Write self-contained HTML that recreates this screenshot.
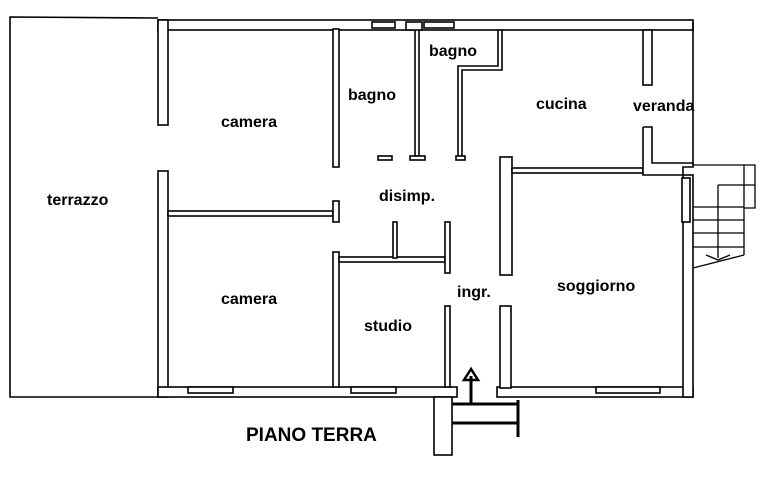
<!DOCTYPE html>
<html><head><style>html,body{margin:0;padding:0;background:#fff}svg{display:block}text{font-family:"Liberation Sans",sans-serif;font-weight:bold;font-size:16px;fill:#000}</style></head>
<body>
<svg width="766" height="502" viewBox="0 0 766 502" xmlns="http://www.w3.org/2000/svg">
<g fill="#fff" stroke="#000" stroke-width="1.6">
<polyline points="158,18 10,17 10,397 158,397" fill="none"/>
<rect x="158" y="20" width="535" height="10"/>
<rect x="158" y="20" width="10" height="105"/>
<rect x="158" y="171" width="10" height="226"/>
<rect x="158" y="387" width="299" height="10"/>
<rect x="497" y="387" width="196" height="10"/>
<line x1="693" y1="22" x2="693" y2="165"/>
<rect x="683" y="175" width="10" height="222"/>
<rect x="333" y="29" width="6" height="138"/>
<rect x="168" y="211" width="165" height="5"/>
<rect x="333" y="201" width="6" height="21"/>
<rect x="415" y="29" width="4" height="127"/>
<rect x="410" y="156" width="15" height="4"/>
<rect x="378" y="156" width="14" height="4"/>
<polyline points="458,156 458,66 498,66 498,30 502,30 502,70 462,70 462,156"/>
<rect x="456" y="156" width="9" height="4"/>
<rect x="500" y="157" width="12" height="118"/>
<rect x="500" y="306" width="11" height="82"/>
<rect x="512" y="168" width="131" height="5"/>
<rect x="643" y="30" width="9" height="55"/>
<polyline points="643,127 652,127 652,163 693,163 693,167 683,167 683,175 643,175 643,127"/>
<rect x="682" y="178" width="8" height="44"/>
<rect x="333" y="252" width="6" height="135"/>
<rect x="339" y="257" width="106" height="5"/>
<rect x="393" y="222" width="4" height="36"/>
<rect x="445" y="222" width="5" height="51"/>
<rect x="445" y="306" width="5" height="81"/>
<rect x="188" y="387" width="45" height="6"/>
<rect x="351" y="387" width="45" height="6"/>
<rect x="596" y="387" width="64" height="6"/>
<rect x="372" y="22" width="23" height="6"/>
<rect x="406" y="22" width="16" height="8"/>
<rect x="424" y="22" width="30" height="6"/>
<rect x="434" y="397" width="18" height="58"/>
</g>
<g stroke="#000" fill="none">
<line x1="452" y1="404" x2="518" y2="404" stroke-width="3"/>
<line x1="452" y1="423" x2="518" y2="423" stroke-width="3"/>
<line x1="518" y1="400" x2="518" y2="437" stroke-width="3"/>
<line x1="471" y1="404" x2="471" y2="376" stroke-width="3"/>
<polygon points="471,369 464,380 478,380" stroke-width="2.5"/>
<g stroke-width="1.3">
<polyline points="693,165 755,165 755,208 744,208"/>
<line x1="744" y1="165" x2="744" y2="255"/>
<polyline points="718,185 755,185"/>
<line x1="718" y1="185" x2="718" y2="258"/>
<line x1="693" y1="207" x2="744" y2="207"/>
<line x1="693" y1="220" x2="744" y2="220"/>
<line x1="693" y1="233" x2="744" y2="233"/>
<line x1="693" y1="247" x2="744" y2="247"/>
<line x1="693" y1="268" x2="744" y2="255"/>
<polyline points="706,255 718,260 730,255"/>
</g>
</g>
<text x="47" y="205">terrazzo</text>
<text x="221" y="127">camera</text>
<text x="348" y="100">bagno</text>
<text x="429" y="56">bagno</text>
<text x="536" y="109">cucina</text>
<text x="633" y="111">veranda</text>
<text x="379" y="201">disimp.</text>
<text x="221" y="304">camera</text>
<text x="364" y="331">studio</text>
<text x="457" y="297">ingr.</text>
<text x="557" y="291">soggiorno</text>
<text x="246" y="441" style="font-size:19px">PIANO TERRA</text>
</svg>
</body></html>
